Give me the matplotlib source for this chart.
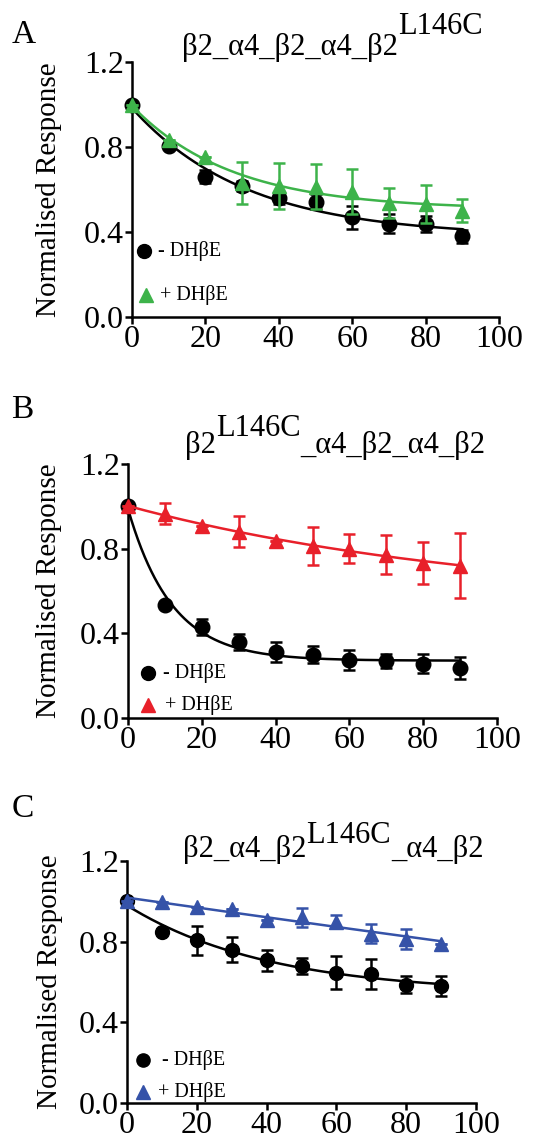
import numpy as np
import matplotlib
matplotlib.use("Agg")
import matplotlib.pyplot as plt
from matplotlib.lines import Line2D

plt.rcParams['font.family'] = ['Liberation Serif', 'DejaVu Serif']

# ---------------- data ----------------
time = [0, 10, 20, 30, 40, 50, 60, 70, 80, 90]

# Panel A  (beta2_alpha4_beta2_alpha4_beta2^L146C)
a_minus = [1.00, 0.805, 0.66, 0.617, 0.558, 0.543, 0.469, 0.44, 0.437, 0.38]
a_minus_err = [0.0, 0.01, 0.03, 0.025, 0.028, 0.037, 0.053, 0.045, 0.038, 0.03]
a_plus = [1.00, 0.833, 0.754, 0.632, 0.617, 0.613, 0.59, 0.535, 0.532, 0.50]
a_plus_err = [0.0, 0.0, 0.0, 0.099, 0.108, 0.106, 0.105, 0.07, 0.09, 0.055]

# Panel B  (beta2^L146C_alpha4_beta2_alpha4_beta2)
b_minus = [1.00, 0.535, 0.43, 0.359, 0.31, 0.30, 0.276, 0.268, 0.257, 0.237]
b_minus_err = [0.0, 0.0, 0.039, 0.039, 0.047, 0.039, 0.047, 0.034, 0.046, 0.053]
b_plus = [1.00, 0.966, 0.908, 0.88, 0.838, 0.814, 0.80, 0.772, 0.733, 0.72]
b_plus_err = [0.0, 0.049, 0.0, 0.073, 0.0, 0.09, 0.07, 0.092, 0.10, 0.154]

# Panel C  (beta2_alpha4_beta2^L146C_alpha4_beta2)
c_minus = [1.00, 0.85, 0.806, 0.76, 0.707, 0.68, 0.645, 0.64, 0.587, 0.58]
c_minus_err = [0.0, 0.0, 0.072, 0.062, 0.052, 0.04, 0.082, 0.075, 0.044, 0.05]
c_plus = [1.00, 0.995, 0.97, 0.96, 0.905, 0.92, 0.90, 0.84, 0.815, 0.79]
c_plus_err = [0.0, 0.0, 0.0, 0.0, 0.0, 0.045, 0.033, 0.047, 0.05, 0.0]

panel_letters = ['A', 'B', 'C']
legend_labels = ['- DH\u03b2E', '+ DH\u03b2E']
y_ticks = [0.0, 0.4, 0.8, 1.2]
x_ticks = [0, 20, 40, 60, 80, 100]
ylabel = 'Normalised Response'

GREEN = '#3db34a'
RED = '#e8202a'
BLUE = '#3552a8'
BLACK = '#000000'

W, H = 547, 1140
fig = plt.figure(figsize=(W / 100, H / 100), dpi=100)


def fit_decay(x, y):
    """least-squares one-phase exponential decay fitted to the data"""
    x = np.asarray(x, float)
    y = np.asarray(y, float)
    best = None
    for k in np.linspace(0.0005, 0.3, 3000):
        e = np.exp(-k * x)
        M = np.column_stack([np.ones_like(x), e])
        coef = np.linalg.lstsq(M, y, rcond=None)[0]
        r = np.sum((M @ coef - y) ** 2)
        if best is None or r < best[0]:
            best = (r, k, coef)
    _, k, (p, s) = best
    return lambda t: p + s * np.exp(-k * t)


def ax_at(left, right, top, bottom):
    return fig.add_axes([left / W, 1 - bottom / H, (right - left) / W, (bottom - top) / H])


def fx(px):
    return px / W


def fy(py):
    return 1 - py / H


panels = [
    dict(box=(132, 499, 62, 317), minus=(a_minus, a_minus_err), plus=(a_plus, a_plus_err), col=GREEN,
         letter=(12, 43), ylab_x=50, ms=10.5,
         title=[('\u03b22_\u03b14_\u03b22_\u03b14_\u03b22', 182, 55), ('L146C', None, 34)],
         leg=[(144, 251, 158), (146, 295, 160)]),
    dict(box=(128, 497, 464, 718), minus=(b_minus, b_minus_err), plus=(b_plus, b_plus_err), col=RED,
         letter=(11, 418), ylab_x=50, ms=10.5,
         title=[('\u03b22', 185, 453), ('L146C', None, 436), ('_\u03b14_\u03b22_\u03b14_\u03b22', None, 453)],
         leg=[(148, 673, 163), (148, 705, 165)]),
    dict(box=(127, 476, 861, 1103), minus=(c_minus, c_minus_err), plus=(c_plus, c_plus_err), col=BLUE,
         letter=(12, 817), ylab_x=51, ms=10,
         title=[('\u03b22_\u03b14_\u03b22', 183, 857), ('L146C', None, 843), ('_\u03b14_\u03b22', None, 857)],
         leg=[(143, 1060, 162), (143, 1092, 158)]),
]

tx = np.linspace(0, 90, 300)

for i, P in enumerate(panels):
    left, right, top, bottom = P['box']
    ax = ax_at(left, right, top, bottom)
    ax.set_xlim(0, 100)
    ax.set_ylim(0, 1.2)
    for s in ['top', 'right']:
        ax.spines[s].set_visible(False)
    for s in ['left', 'bottom']:
        ax.spines[s].set_linewidth(1.8)
    ax.set_xticks(x_ticks)
    ax.set_yticks(y_ticks)
    ax.set_yticklabels([f'{v:.1f}' for v in y_ticks])
    ax.tick_params(labelsize=23, width=1.8, length=5, pad=1.0, direction='out')
    ax.patch.set_alpha(0)

    ym, em = P['minus']
    yp, ep = P['plus']
    c = P['col']
    ms = P['ms']

    # fits
    ax.plot(tx, fit_decay(time, ym)(tx), color=BLACK, lw=1.8, clip_on=False, zorder=3)
    ax.errorbar(time, ym, yerr=em, fmt='o', color=BLACK, ms=ms, capsize=4.5, elinewidth=1.8,
                capthick=1.8, clip_on=False, zorder=4)
    ax.plot(tx, fit_decay(time, yp)(tx), color=c, lw=1.8, clip_on=False, zorder=5)
    ax.errorbar(time, yp, yerr=ep, fmt='^', color=c, ms=ms, capsize=4.5, elinewidth=1.8,
                capthick=1.8, clip_on=False, zorder=6)

    # y label
    ax.set_ylabel(ylabel, fontsize=21)
    ax.yaxis.set_label_coords((P['ylab_x'] + 12 - left) / (right - left), 0.5)

    # panel letter
    lx, ly = P['letter']
    fig.text(fx(lx), fy(ly), panel_letters[i], fontsize=24, va='baseline', ha='left')

    # title pieces
    prev = None
    for txt, x0, yb in P['title']:
        if prev is None:
            prev = fig.text(fx(x0), fy(yb), txt, fontsize=22, va='baseline', ha='left')
        else:
            prev = ax.annotate(txt, xy=(1, fy(yb)), xycoords=(prev, fig.transFigure),
                               fontsize=22, va='baseline', ha='left', annotation_clip=False)

    # legend (manual)
    for j, (mx, my, tx0) in enumerate(P['leg']):
        mk = 'o' if j == 0 else '^'
        col = BLACK if j == 0 else c
        fig.add_artist(Line2D([fx(mx)], [fy(my)], marker=mk, color=col, ms=ms - 0.5,
                              linestyle='none', transform=fig.transFigure))
        fig.text(fx(tx0), fy(my), legend_labels[j], fontsize=14.5, va='center', ha='left')

fig.savefig('out.png', dpi=100)
